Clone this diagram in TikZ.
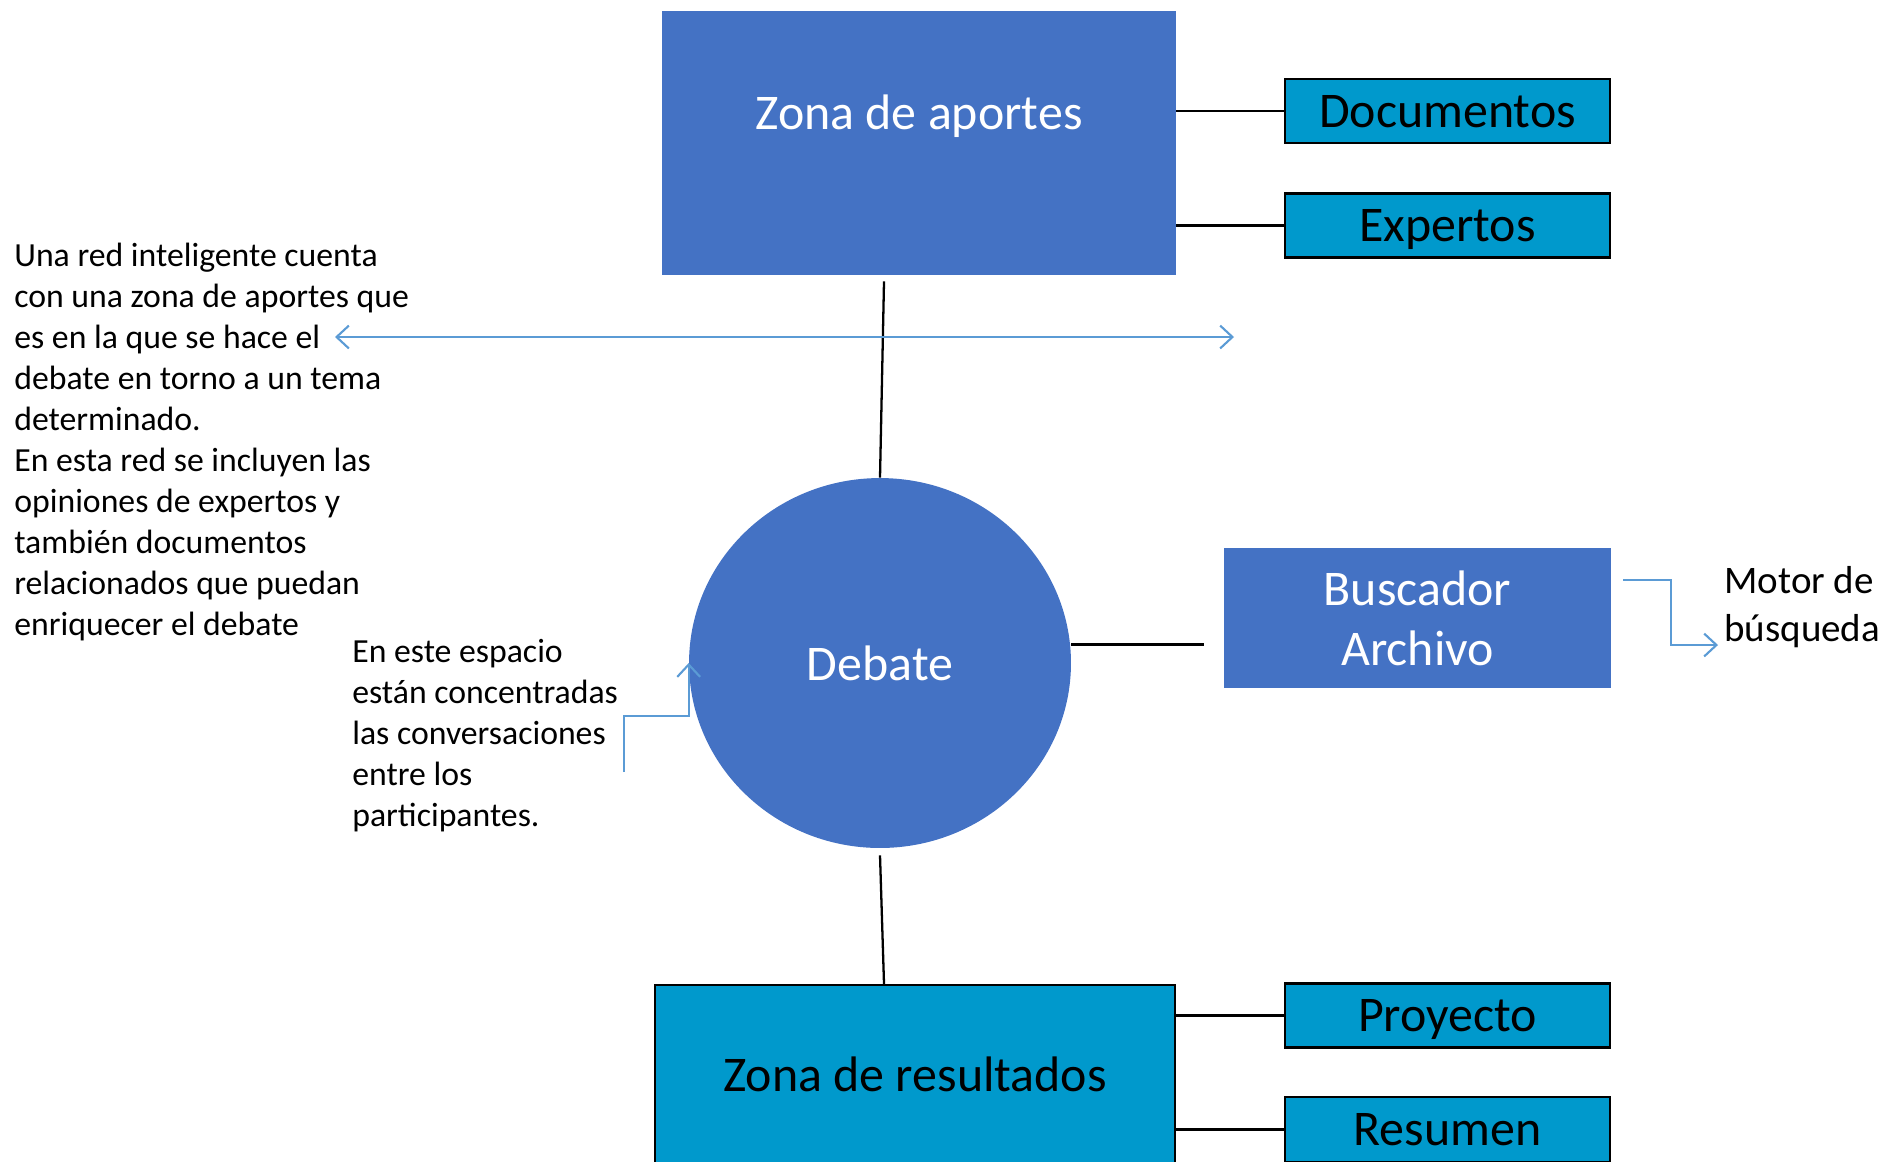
\documentclass[tikz,border=0pt]{standalone}
\usepackage{fontspec}
\setmainfont{Carlito}
\usetikzlibrary{arrows.meta, shapes.geometric, calc}
\usetikzlibrary{positioning}

\definecolor{zonablue}{RGB}{68,114,196}
\definecolor{zonacyan}{RGB}{0,153,204}
\definecolor{notablue}{RGB}{91,155,213}

\begin{document}
\begin{tikzpicture}[x=0.02cm, y=-0.02cm, >={Straight Barb[length=7pt,width=13pt]},
    bigbox/.style={rectangle, inner sep=0pt, font=\fontsize{28.4}{34}\selectfont},
    smallbox/.style={rectangle, draw=black, line width=1.4pt, fill=zonacyan, minimum width=6.5cm,
        minimum height=1.28cm, inner sep=0pt, text height=18.3pt, text depth=0pt,
        font=\fontsize{28.4}{34}\selectfont},
    note/.style={align=left, anchor=north west, inner sep=0pt, font=\fontsize{19.2}{23.3}\selectfont},
    link/.style={draw=black, line width=1.3pt},
    notearrow/.style={draw=notablue, line width=1.2pt}]
    \useasboundingbox (0,0) rectangle (1888,1161);
    \node[bigbox, fill=zonablue, minimum width=10.28cm, minimum height=5.28cm,
        label={[yshift=15pt, text=white, font=\fontsize{28.4}{34}\selectfont]center:Zona de aportes}] at (919,143) (aportes) {};
	\node[smallbox] at (1447.5,111) (docs) {Documentos};
	\node[smallbox] at (1447.5,225.5) (expertos) {Expertos};
	\draw[link] (aportes.east |- docs.west) -- (docs.west);
	\draw[link] (aportes.east |- expertos.west) -- (expertos.west);
    \node[ellipse, fill=zonablue, inner sep=0pt, minimum width=7.64cm, minimum height=7.4cm,
        text=white, font=\fontsize{28.4}{34}\selectfont] at (880,663) (debate) {Debate};
	\draw[link] (debate.north) -- ($(aportes.south -| debate.north)+(4,6)$);
    \node[bigbox, fill=zonablue, minimum width=7.74cm, minimum height=2.8cm, align=center,
        text=white] at (1417.5,618) (buscador) {Buscador\\Archivo};
    \coordinate (busL) at (1204,644);
	\draw[black, line width=1.7pt] (debate.east |- busL) -- (busL);
    \node[bigbox, draw=black, line width=1.4pt, fill=zonacyan, minimum width=10.4cm,
        minimum height=3.56cm] at (915,1074) (resultados) {Zona de resultados};
	\draw[link] ($(debate.south)+(0,7)$) -- ($(debate.south |- resultados.north)+(4,0)$);
	\node[smallbox] at (1447.5,1015.5) (proyecto) {Proyecto};
	\node[smallbox, minimum height=1.3cm] at (1447.5,1129.5) (resumen) {Resumen};
	\draw[link] (resultados.east |- proyecto.west) -- (proyecto.west);
	\draw[link] (resultados.east |- resumen.west) -- (resumen.west);
    \node[note] at (14,243) (intro) {Una red inteligente cuenta\\con una zona de aportes que\\es en la que se hace el\\debate en torno a un tema\\determinado.\\En esta red se incluyen las\\opiniones de expertos y\\también documentos\\relacionados que puedan\\enriquecer el debate};
    \coordinate (aporteL) at (335,337);
    \coordinate (aporteR) at (1234,337);
	\draw[notearrow, <->] (aporteL) -- (aporteR);
    \node[note] at (352,639) (espacio) {En este espacio\\están concentradas\\las conversaciones\\entre los\\participantes.};
    \coordinate (espacioStart) at (624,772);
	\draw[notearrow, ->] (espacioStart) -- ++(0,-56) -| (debate.west);
    \node[note, font=\fontsize{22.2}{27.3}\selectfont] at (1724,566) (motor) {Motor de\\búsqueda};
    \coordinate (motorStart) at (1623,580);
    \coordinate (motorEnd) at (1718,645);
	\draw[notearrow, ->] (motorStart) -- ++(48,0) |- (motorEnd);
\end{tikzpicture}
\end{document}
